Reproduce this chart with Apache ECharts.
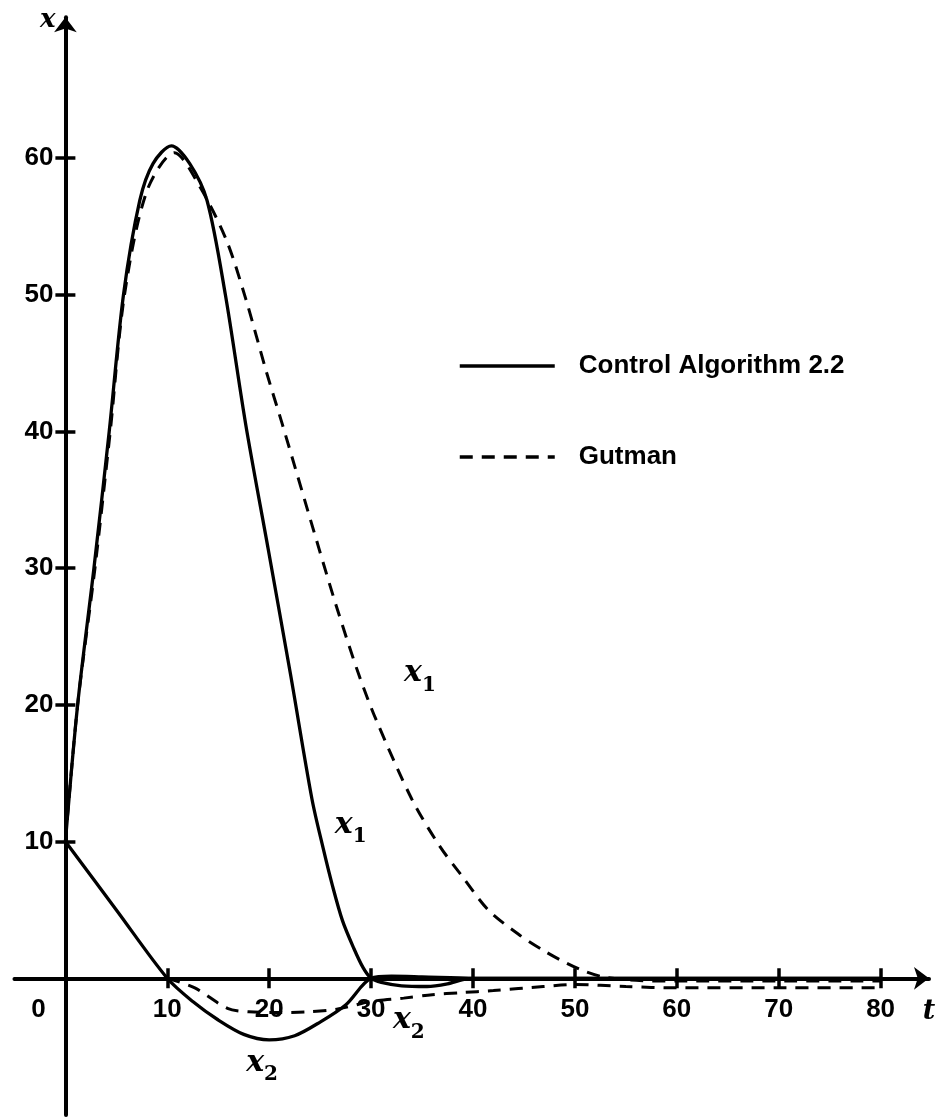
<!DOCTYPE html>
<html>
<head>
<meta charset="utf-8">
<script src="https://cdn.jsdelivr.net/npm/echarts@6/dist/echarts.min.js"></script>
<style>
  html, body { margin: 0; padding: 0; background: #fff; }
  #chart { width: 938px; height: 1117px; }
</style>
</head>
<body>
<div id="chart"></div>
<script>
// Control Algorithm 2.2 (solid)
const ctrlX1T = [0, 1.2, 2.8, 4.3, 5.7, 7.3, 8.6, 10.4, 12.2, 13.9, 15.7, 17.7, 19.9, 22.1, 24.2, 25.3, 26.2, 27.2, 28.3, 29.2, 30, 31, 33, 35.5, 37.5, 39, 40, 60, 80];
const ctrlX1 = [10, 20, 30, 40, 50, 56.9, 59.6, 60.9, 59.6, 56.9, 50, 40.5, 31.4, 22.2, 13.1, 9.5, 6.8, 4.2, 2.2, 0.8, 0, -0.3, -0.55, -0.6, -0.4, -0.1, 0, 0, 0];
const ctrlX2T = [0, 5, 10, 12.5, 15, 17.5, 20, 22.5, 25, 27.5, 30, 32, 35, 40, 60, 80];
const ctrlX2 = [10, 5, 0, -1.7, -3.05, -4.1, -4.5, -4.2, -3.2, -1.95, 0, 0.15, 0.1, 0, 0, 0];

// Gutman (dashed)
const gutX1T = [0, 1.2, 2.9, 4.4, 5.8, 8, 10.7, 13.2, 15.8, 17.7, 19.75, 21.3, 24.9, 26.6, 28.8, 30.5, 34, 36.7, 38.9, 41.5, 44.5, 47, 49.2, 51, 52.8, 56, 60, 70, 80];
const gutX1 = [10, 20, 30, 40, 50, 57.6, 60.4, 57.9, 54, 49.7, 44.3, 40.5, 31.4, 27.2, 22.2, 18.9, 13.1, 9.7, 7.5, 5, 3.2, 2, 1.1, 0.5, 0.1, -0.15, -0.2, -0.2, -0.2];
const gutX2T = [10, 12.7, 15.9, 18, 21, 24, 26.7, 30, 33.2, 36, 38.8, 42, 46.9, 50, 55, 60, 70, 80];
const gutX2 = [0, -0.7, -2.2, -2.45, -2.5, -2.45, -2.25, -1.7, -1.45, -1.2, -1.05, -0.9, -0.6, -0.45, -0.6, -0.7, -0.7, -0.7];

// axis ticks / labels
const tTicks = [10, 20, 30, 40, 50, 60, 70, 80];
const xTicks = [10, 20, 30, 40, 50, 60];

// curve annotations
const noteT = [34.8, 28.0, 19.3, 33.7];
const noteV = [22.3, 11.2, -6.2, -3.1];
const noteSub = ['1', '1', '2', '2'];

const SERIES_A = 'Control Algorithm 2.2';
const SERIES_B = 'Gutman';

const T_MIN = -5, T_MAX = 84.75;
const X_MIN = -10, X_MAX = 70.3;

const pairs = (ts, vs) => ts.map((t, i) => [t, vs[i]]);

const chart = echarts.init(document.getElementById('chart'));

const labelFont = {
  fontFamily: 'Liberation Sans',
  fontWeight: 'bold',
  fontSize: 26,
  color: '#000'
};
const tickStyle = { color: '#000', width: 3.5 };

chart.setOption({
  animation: false,
  backgroundColor: '#fff',
  grid: { left: 14.45, right: 9, top: 17.3, bottom: 2, containLabel: false, outerBoundsMode: 'none' },
  legend: {
    data: [SERIES_A, SERIES_B],
    orient: 'vertical',
    left: 458,
    top: 351,
    padding: 0,
    itemWidth: 95,
    itemHeight: 14,
    itemGap: 61,
    selectedMode: false,
    lineStyle: { width: 3.5 },
    itemStyle: { opacity: 0, borderWidth: 0 },
    textStyle: {
      fontFamily: 'Liberation Sans',
      fontWeight: 'bold',
      fontSize: 26,
      lineHeight: 30,
      color: '#000',
      padding: [0, 0, 0, 19]
    }
  },
  xAxis: [
    {
      type: 'value',
      min: T_MIN,
      max: T_MAX,
      interval: 5,
      position: 'bottom',
      axisLine: {
        onZero: false,
        symbol: ['none', 'arrow'],
        symbolSize: [17, 15],
        lineStyle: { color: '#000', width: 4 }
      },
      axisTick: { show: true, customValues: tTicks, length: 10, lineStyle: tickStyle },
      axisLabel: Object.assign({
        show: true,
        margin: 19,
        showMinLabel: false,
        showMaxLabel: false,
        formatter: v => {
          if (v === 0) return '{o|0}';
          return (v > 0 && v <= 80 && v % 10 === 0) ? String(v) : '';
        },
        rich: { o: Object.assign({ padding: [0, 54, 0, 0] }, labelFont) }
      }, labelFont),
      splitLine: { show: false },
      name: 't',
      nameLocation: 'end',
      nameGap: 0,
      nameTextStyle: {
        fontFamily: 'DejaVu Serif',
        fontStyle: 'italic',
        fontWeight: 'bold',
        fontSize: 27,
        color: '#000',
        align: 'center',
        verticalAlign: 'top',
        padding: [20, 0, 0, 0]
      }
    },
    {
      type: 'value',
      min: T_MIN,
      max: T_MAX,
      interval: 5,
      position: 'top',
      axisLine: { show: false, onZero: false },
      axisTick: { show: true, customValues: tTicks, length: 10, lineStyle: tickStyle },
      axisLabel: { show: false },
      splitLine: { show: false }
    }
  ],
  yAxis: [
    {
      type: 'value',
      min: X_MIN,
      max: X_MAX,
      interval: 10,
      position: 'left',
      axisLine: {
        onZero: false,
        symbol: ['none', 'arrow'],
        symbolSize: [17, 15],
        lineStyle: { color: '#000', width: 4 }
      },
      axisTick: { show: true, customValues: xTicks, length: 10, lineStyle: tickStyle },
      axisLabel: Object.assign({
        show: true,
        margin: 12,
        showMinLabel: false,
        showMaxLabel: false,
        formatter: v => (v >= 10 && v <= 60 ? String(v) : '')
      }, labelFont),
      splitLine: { show: false },
      name: 'x',
      nameLocation: 'end',
      nameGap: -3,
      nameTextStyle: {
        fontFamily: 'DejaVu Serif',
        fontStyle: 'italic',
        fontWeight: 'bold',
        fontSize: 26,
        color: '#000',
        align: 'right',
        verticalAlign: 'middle',
        padding: [0, 10, 0, 0]
      }
    },
    {
      type: 'value',
      min: X_MIN,
      max: X_MAX,
      interval: 10,
      position: 'right',
      axisLine: { show: false, onZero: false },
      axisTick: { show: true, customValues: xTicks, length: 10, lineStyle: tickStyle },
      axisLabel: { show: false },
      splitLine: { show: false }
    }
  ],
  series: [
    {
      name: SERIES_A,
      type: 'line',
      data: pairs(ctrlX1T, ctrlX1),
      smooth: 0.3,
      symbol: 'none',
      lineStyle: { color: '#000', width: 3.3 },
      itemStyle: { color: '#000' }
    },
    {
      name: SERIES_A,
      type: 'line',
      data: pairs(ctrlX2T, ctrlX2),
      smooth: 0.3,
      symbol: 'none',
      lineStyle: { color: '#000', width: 3.3 },
      itemStyle: { color: '#000' }
    },
    {
      name: SERIES_B,
      type: 'line',
      data: pairs(gutX1T, gutX1),
      smooth: 0.3,
      symbol: 'none',
      lineStyle: { color: '#000', width: 3, type: [13, 9] },
      itemStyle: { color: '#000' }
    },
    {
      name: SERIES_B,
      type: 'line',
      data: pairs(gutX2T, gutX2),
      smooth: 0.3,
      symbol: 'none',
      lineStyle: { color: '#000', width: 3, type: [13, 9] },
      itemStyle: { color: '#000' }
    },
    {
      name: 'notes',
      type: 'scatter',
      symbolSize: 0,
      silent: true,
      itemStyle: { opacity: 1, color: '#000' },
      data: noteT.map((t, i) => [t, noteV[i], noteSub[i]]),
      label: {
        show: true,
        position: 'inside',
        opacity: 1,
        formatter: p => '{a|x}{b|' + p.value[2] + '}',
        rich: {
          a: {
            fontFamily: 'DejaVu Serif',
            fontStyle: 'italic',
            fontWeight: 'bold',
            fontSize: 30,
            lineHeight: 44,
            color: '#000'
          },
          b: {
            fontFamily: 'DejaVu Serif',
            fontWeight: 'bold',
            fontSize: 20,
            lineHeight: 44,
            verticalAlign: 'bottom',
            color: '#000'
          }
        }
      }
    }
  ]
});

const px = v => chart.convertToPixel({ xAxisIndex: 0 }, v);
const py = v => chart.convertToPixel({ yAxisIndex: 0 }, v);
const zeroX = px(0), zeroY = py(0);
chart.setOption({
  xAxis: [
    { offset: zeroY - py(X_MIN) },
    { offset: py(X_MAX) - zeroY }
  ],
  yAxis: [
    { offset: px(T_MIN) - zeroX },
    { offset: zeroX - px(T_MAX) }
  ]
});
</script>
</body>
</html>
